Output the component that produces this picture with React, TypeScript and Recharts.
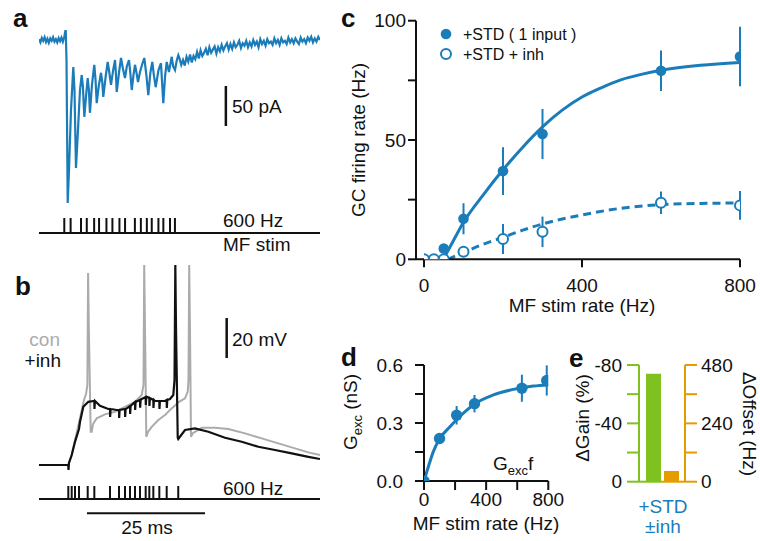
import React from "react";
import {
  Bar,
  BarChart,
  ComposedChart,
  ErrorBar,
  Line,
  LineChart,
  ReferenceLine,
  Scatter,
  XAxis,
  YAxis,
} from "recharts";

const BLUE = "#1b7cba";
const GREEN = "#7fc21f";
const ORANGE = "#e69c00";
const GREY = "#ababab";
const INK = "#111111";
const FONT = '"Liberation Sans", Arial, Helvetica, sans-serif';
const W = 760;
const H = 541;

// panel a: EPSC during 600 Hz MF stim, [ms, pA]
const epscTrace: [number, number][] = [
  [0, 1], [0.4, -3], [0.8, 2.5], [1.2, -1], [1.6, 3.5], [2.0, -2.5], [2.4, 1.5], [2.8, -3.5], [3.2, 2],
  [3.6, -1], [4.0, 3.5], [4.4, -2], [4.8, 1], [5.2, -3], [5.6, 2.5], [6.0, -1.5], [6.4, 3], [6.8, -2],
  [7.2, 4], [7.4, 8.75], [7.6, 13.75], [7.83, -25], [8.17, -203.75], [8.54, -162.5], [9.11, -87.5],
  [9.77, -33.75], [10.1, -62.5], [10.53, -160], [11.1, -112.5], [11.67, -62.5], [12.16, -43.75],
  [12.5, -58], [12.9, -96], [13.4, -70], [13.86, -47.5], [14.2, -62], [14.5, -91], [15.1, -55],
  [15.74, -31], [16.1, -50], [16.43, -79], [17.0, -58], [17.65, -41], [18.0, -52], [18.3, -71],
  [19.0, -45], [19.56, -27.5], [20.0, -40], [20.5, -56], [21.1, -38], [21.64, -25], [21.9, -42],
  [22.12, -65], [22.8, -40], [23.35, -22.5], [23.9, -36], [24.48, -47.5], [25.0, -33], [25.62, -25],
  [26.0, -41], [26.4, -62.5], [26.9, -44], [27.33, -31], [27.8, -42], [28.19, -52.5], [28.75, -40],
  [29.4, -30], [29.98, -22.5], [30.6, -45], [31.12, -69], [31.7, -41], [32.26, -27.5], [32.7, -44],
  [33.22, -59], [34.0, -38], [34.73, -29], [35.0, -50], [35.39, -79], [35.9, -45], [36.36, -27.5],
  [37.0, -40], [37.78, -21], [38.2, -33], [38.72, -37.5], [39.2, -26], [39.66, -19],
  [40.0, -23], [40.5, -31], [41.0, -25], [41.5, -32], [42.0, -21], [42.5, -27], [43.0, -18], [43.5, -28],
  [44.0, -20], [44.5, -24], [45.0, -15], [45.5, -23], [46.0, -13], [46.5, -20], [47.0, -16], [47.5, -11],
  [48.0, -19], [48.5, -9], [49.0, -16], [49.5, -12], [50.0, -8], [50.5, -17], [51.0, -9], [51.5, -14],
  [52.0, -6], [52.5, -13], [53.0, -8], [53.5, -4], [54.0, -12], [54.5, -5], [55.0, -11], [55.5, -3],
  [56.0, -9], [56.5, -6], [57.0, -1], [57.5, -10], [58.0, -4], [58.5, -7], [59.0, -1], [59.5, -9],
  [60.0, -3], [60.5, -8], [61.0, 0], [61.5, -6], [62.0, -2], [62.5, -9], [63.0, 1], [63.5, -5],
  [64.0, -1], [64.5, -7], [65.0, 1], [65.5, -4], [66.0, -2], [66.5, -6], [67.0, 2], [67.5, -4],
  [68.0, 0], [68.5, -6], [69.0, 2], [69.5, -3], [70.0, -1], [70.5, -5], [71.0, 3], [71.5, -3],
  [72.0, 1], [72.5, -4], [73.0, 2], [73.5, -2], [74.0, -5], [74.5, 3], [75.0, -2], [75.5, 1],
  [76.0, -4], [76.5, 3], [77.0, -1], [77.5, 4], [78.0, -3], [78.5, 2], [79.0, -2], [79.5, 4], [80.0, 0],
];
const stimTimesA = [7.2, 9.0, 11.95, 13.6, 15.7, 17.1, 19.2, 20.9, 22.9, 24.5, 27.3, 29.0, 30.7, 32.1, 34.0, 35.4, 37.3, 38.7];

// panel b: membrane potential relative to rest, [ms, mV]
const vmCon: [number, number][] = [
  [0, 0], [6.2, 0], [6.93, 5], [7.63, 12.5], [8.69, 23.5], [9.53, 32.5], [9.96, 35.5], [10.25, 40],
  [10.4, 96], [10.55, 70], [10.95, 16.6], [11.17, 16.6], [11.44, 20.5], [12.22, 23.3], [13.98, 25.3],
  [16.1, 26.6], [18.22, 29.1], [20.34, 31.6], [21.76, 35], [22.14, 40], [22.29, 100], [22.46, 67.5],
  [22.73, 14.1], [23.09, 16.5], [23.88, 19.1], [25.28, 22.5], [26.69, 25], [28.11, 28.3], [29.66, 31.6],
  [30.93, 33.3], [31.5, 36.6], [31.67, 42.5], [31.82, 100], [31.99, 67.5], [32.2, 14.1], [32.63, 16],
  [33.05, 16.6], [34.47, 18.6], [37.29, 18.6], [40.11, 18], [43.64, 15.8], [47.18, 13.3], [50.7, 10.8],
  [54.24, 8.3], [57.06, 6.3], [59.53, 5],
];
const vmInh: [number, number][] = [
  [0, 0], [6.2, 0], [6.25, -2.5], [6.35, 1], [6.93, 5], [7.63, 11.6], [8.47, 18], [8.69, 21.6],
  [9.39, 29.1], [10.44, 31.6], [11.5, 32], [11.72, 32], [11.75, 28], [11.85, 32], [12.92, 29.6],
  [14.68, 28], [15.04, 28], [15.07, 24], [15.17, 28], [16.46, 27.5], [16.95, 27.5], [16.98, 23.5],
  [17.08, 27.5], [18.22, 28], [18.25, 24], [18.35, 28], [19.28, 29.5], [19.31, 25.5], [19.41, 29.5],
  [19.98, 30.8], [20.34, 31.5], [20.37, 27.5], [20.47, 31.5], [21.4, 32.6], [21.43, 28.6], [21.53, 32.6],
  [21.76, 33], [22.6, 34], [22.63, 30], [22.73, 34], [22.82, 34.1], [23.37, 33.5], [23.4, 29.5],
  [23.5, 33.5], [24.22, 32.5], [24.25, 28.5], [24.35, 32.5], [24.58, 32], [25.49, 32], [25.52, 28],
  [25.62, 32], [26.69, 32], [27.05, 32.5], [27.08, 28.5], [27.18, 32.5], [27.75, 33], [28.45, 35],
  [28.71, 42.5], [28.88, 100], [29.03, 67.5], [29.39, 13.6], [29.5, 13], [30.93, 17.5], [33.05, 18.3],
  [35.87, 16.6], [39.41, 13.6], [42.94, 11.6], [46.46, 9.1], [50, 7.5], [53.54, 5.8], [57.06, 4.1],
  [59.53, 3],
];
const stimTimesB = [6.21, 6.93, 7.63, 8.47, 10.32, 11.72, 15.04, 16.95, 18.22, 19.28, 20.34, 21.4, 22.6, 23.37, 24.22, 25.49, 27.05, 29.5];

// panel c: GC output rate vs MF rate
const stimRate = [0, 25, 50, 100, 200, 300, 600, 800];
const stdRate = [0, 0, 4.5, 17, 37, 52.5, 79, 85];
const stdSem = [0, 0, 0, 6.5, 10, 10.5, 8.5, 12.5];
const inhRate = [0, 0, 0, 3.2, 8.5, 11.5, 23.7, 22.6];
const inhSem = [0, 0, 0, 2, 6.3, 6.4, 4.7, 6];
const stdFitX = [52, 75, 100, 150, 200, 250, 300, 350, 400, 450, 500, 550, 600, 700, 800];
const stdFitY = [1, 8, 15.5, 27, 37.5, 47, 55.5, 62.5, 68, 72, 75.3, 77.5, 79.2, 81.3, 82.5];
const inhFitX = [60, 100, 150, 200, 250, 300, 400, 500, 600, 700, 800];
const inhFitY = [0, 2.8, 6.3, 9.2, 12.2, 14.8, 18.6, 21.4, 22.9, 23.4, 23.6];

// panel d: excitatory conductance vs MF rate
const gRate = [0, 100, 210, 325, 630, 790];
const gExc = [0, 0.22, 0.34, 0.4, 0.48, 0.52];
const gSem = [0, 0, 0.048, 0.045, 0.07, 0.078];
const gFitX = [0, 28, 60, 103, 167, 232, 328, 446, 575, 704, 800];
const gFitY = [0, 0.074, 0.152, 0.221, 0.281, 0.335, 0.4, 0.445, 0.474, 0.491, 0.497];

// panel e
const gainChange = -74;
const offsetChange = 44;

const pts = (xs: number[], ys: number[], es?: number[]) =>
  xs.map((x, i) => ({ x, y: ys[i], e: es ? es[i] : 0 }));
const trace = (rows: [number, number][]) => rows.map(([t, v]) => ({ t, v }));

const axisStroke = { stroke: INK, strokeWidth: 2 };
const tickStyle = { fontSize: 19, fill: INK, fontFamily: FONT };

function Layer({ children }: { children: React.ReactNode }) {
  return <div style={{ position: "absolute", left: 0, top: 0 }}>{children}</div>;
}

const filledDot = (r: number) => (p: any) => <circle cx={p.cx} cy={p.cy} r={r} fill={BLUE} />;
const openDot = (p: any) => <circle cx={p.cx} cy={p.cy} r={5} fill="#fff" stroke={BLUE} strokeWidth={2} />;

function PanelA() {
  return (
    <LineChart width={W} height={H} data={trace(epscTrace)} margin={{ top: 30, right: 440, bottom: 301, left: 39 }}>
      <XAxis type="number" dataKey="t" domain={[0, 80]} allowDataOverflow hide />
      <YAxis type="number" domain={[-250, 12.5]} allowDataOverflow hide />
      {stimTimesA.map((t) => (
        <ReferenceLine key={t} segment={[{ x: t, y: -222.5 }, { x: t, y: -241.25 }]} stroke={INK} strokeWidth={2} ifOverflow="visible" />
      ))}
      <ReferenceLine segment={[{ x: 0, y: -241.25 }, { x: 80, y: -241.25 }]} stroke={INK} strokeWidth={2} ifOverflow="visible" />
      <ReferenceLine segment={[{ x: 53.2, y: -57.5 }, { x: 53.2, y: -107.5 }]} stroke={INK} strokeWidth={2.5} ifOverflow="visible" />
      <Line dataKey="v" type="linear" stroke={BLUE} strokeWidth={2.2} dot={false} isAnimationActive={false} />
    </LineChart>
  );
}

function PanelB() {
  return (
    <LineChart width={W} height={H} margin={{ top: 260, right: 440, bottom: 21, left: 39 }}>
      <XAxis type="number" dataKey="t" domain={[0, 59.53]} allowDataOverflow hide />
      <YAxis type="number" domain={[-27.5, 102.5]} allowDataOverflow hide />
      {stimTimesB.map((t) => (
        <ReferenceLine key={t} segment={[{ x: t, y: -10.5 }, { x: t, y: -17 }]} stroke={INK} strokeWidth={2} ifOverflow="visible" />
      ))}
      <ReferenceLine segment={[{ x: 0, y: -17 }, { x: 59.53, y: -17 }]} stroke={INK} strokeWidth={2} ifOverflow="visible" />
      <ReferenceLine segment={[{ x: 10.17, y: -24.15 }, { x: 35.17, y: -24.15 }]} stroke={INK} strokeWidth={2} ifOverflow="visible" />
      <ReferenceLine segment={[{ x: 39.76, y: 53.5 }, { x: 39.76, y: 73.5 }]} stroke={INK} strokeWidth={2.5} ifOverflow="visible" />
      <Line data={trace(vmCon)} dataKey="v" type="linear" stroke={GREY} strokeWidth={2} dot={false} isAnimationActive={false} />
      <Line data={trace(vmInh)} dataKey="v" type="linear" stroke={INK} strokeWidth={2.2} dot={false} isAnimationActive={false} />
    </LineChart>
  );
}

function PanelC() {
  return (
    <ComposedChart width={W} height={H} margin={{ top: 20.7, right: 20, bottom: 251.7, left: 366 }}>
      <XAxis type="number" dataKey="x" domain={[0, 800]} ticks={[0, 400, 800]} padding={{ left: 8, right: 0 }}
        allowDataOverflow height={30} axisLine={axisStroke} tickLine={axisStroke} tickSize={8} tickMargin={11} tick={tickStyle} />
      <YAxis type="number" dataKey="y" domain={[0, 100]} ticks={[0, 25, 50, 75, 100]} allowDataOverflow width={50}
        tickFormatter={(v: number) => (v % 50 === 0 ? String(v) : "")}
        axisLine={axisStroke} tickLine={axisStroke} tickSize={8} tick={tickStyle} />
      <Line data={pts(stdFitX, stdFitY)} dataKey="y" type="monotone" stroke={BLUE} strokeWidth={3} dot={false} isAnimationActive={false} />
      <Line data={pts(inhFitX, inhFitY)} dataKey="y" type="monotone" stroke={BLUE} strokeWidth={3} strokeDasharray="8 5" dot={false} isAnimationActive={false} />
      <Scatter data={pts(stimRate, stdRate, stdSem)} dataKey="y" shape={filledDot(5.3)} isAnimationActive={false}>
        <ErrorBar dataKey="e" direction="y" width={0} stroke={BLUE} strokeWidth={2} />
      </Scatter>
      <Scatter data={pts(stimRate, inhRate, inhSem)} dataKey="y" shape={openDot} isAnimationActive={false}>
        <ErrorBar dataKey="e" direction="y" width={0} stroke={BLUE} strokeWidth={2} />
      </Scatter>
    </ComposedChart>
  );
}

function PanelD() {
  const fmt = (v: number) => (Math.abs(v) < 1e-9 ? "0.0" : Math.abs(v - 0.3) < 1e-9 ? "0.3" : Math.abs(v - 0.6) < 1e-9 ? "0.6" : "");
  return (
    <ComposedChart width={W} height={H} margin={{ top: 365, right: 211.7, bottom: 30, left: 364 }}>
      <XAxis type="number" dataKey="x" domain={[0, 800]} ticks={[0, 200, 400, 600, 800]} allowDataOverflow height={30}
        tickFormatter={(v: number) => (v % 400 === 0 ? String(v) : "")}
        axisLine={axisStroke} tickLine={axisStroke} tickSize={9} tickMargin={3} tick={tickStyle} />
      <YAxis type="number" dataKey="y" domain={[0, 0.6]} ticks={[0, 0.15, 0.3, 0.45, 0.6]} allowDataOverflow width={60}
        tickFormatter={fmt} axisLine={axisStroke} tickLine={axisStroke} tickSize={9} tickMargin={12} tick={tickStyle} />
      <Line data={pts(gFitX, gFitY)} dataKey="y" type="monotone" stroke={BLUE} strokeWidth={3} dot={false} isAnimationActive={false} />
      <Scatter data={pts(gRate, gExc, gSem)} dataKey="y" shape={filledDot(5.7)} isAnimationActive={false}>
        <ErrorBar dataKey="e" direction="y" width={0} stroke={BLUE} strokeWidth={2} />
      </Scatter>
    </ComposedChart>
  );
}

const panelE = [{ k: "+STD ±inh", gain: gainChange, offset: offsetChange }];

function PanelEGain() {
  const line = { stroke: GREEN, strokeWidth: 2 };
  return (
    <BarChart width={W} height={H} data={panelE} margin={{ top: 365, right: 98, bottom: 57.3, left: 579 }}>
      <XAxis dataKey="k" type="category" padding={{ left: 5, right: 0 }} height={2} tick={false} tickLine={false} axisLine={line} />
      <YAxis type="number" domain={[-80, 0]} reversed allowDataOverflow ticks={[-80, -60, -40, -20, 0]} width={60}
        tickFormatter={(v: number) => (v % 40 === 0 ? String(v) : "")}
        axisLine={line} tickLine={line} tickSize={12} tickMargin={5} tick={tickStyle} />
      <Bar dataKey="gain" fill={GREEN} barSize={15} isAnimationActive={false} />
    </BarChart>
  );
}

function PanelEOffset() {
  const line = { stroke: ORANGE, strokeWidth: 2 };
  return (
    <BarChart width={W} height={H} data={panelE} margin={{ top: 365, right: 15, bottom: 57.3, left: 662 }}>
      <XAxis dataKey="k" type="category" padding={{ left: 0, right: 5 }} height={2} tick={false} tickLine={false} axisLine={line} />
      <YAxis orientation="right" type="number" domain={[0, 480]} allowDataOverflow ticks={[0, 120, 240, 360, 480]} width={60}
        tickFormatter={(v: number) => (v % 240 === 0 ? String(v) : "")}
        axisLine={line} tickLine={line} tickSize={12} tickMargin={4} tick={tickStyle} />
      <Bar dataKey="offset" fill={ORANGE} barSize={15} isAnimationActive={false} />
    </BarChart>
  );
}

function Annotations() {
  const t = { fontFamily: FONT, fontSize: 19, fill: INK };
  const lab = { fontFamily: FONT, fontSize: 26, fontWeight: 700, fill: INK };
  return (
    <svg width={W} height={H} style={{ position: "absolute", left: 0, top: 0, pointerEvents: "none" }}>
      <text x={13} y={27} {...lab}>a</text>
      <text x={15} y={295} {...lab}>b</text>
      <text x={341} y={27} {...lab}>c</text>
      <text x={341} y={366} {...lab}>d</text>
      <text x={569} y={367} {...lab}>e</text>

      <text x={232} y={113} {...t}>50 pA</text>
      <text x={223} y={227} {...t}>600 Hz</text>
      <text x={223} y={251} {...t}>MF stim</text>

      <text x={232} y={346} {...t}>20 mV</text>
      <text x={60} y={346} {...t} fill={GREY} textAnchor="end">con</text>
      <text x={61} y={367} {...t} textAnchor="end">+inh</text>
      <text x={223} y={495} {...t}>600 Hz</text>
      <text x={147} y={534} {...t} textAnchor="middle">25 ms</text>

      <circle cx={446} cy={34} r={5.3} fill={BLUE} />
      <text x={463} y={40} {...t} fontSize={16}>+STD ( 1 input )</text>
      <circle cx={446} cy={54} r={5} fill="#fff" stroke={BLUE} strokeWidth={2} />
      <text x={463} y={60} {...t} fontSize={16}>+STD + inh</text>
      <text x={582} y={312} {...t} textAnchor="middle">MF stim rate (Hz)</text>
      <text x={365} y={140} {...t} textAnchor="middle" transform="rotate(-90 365 140)">GC firing rate (Hz)</text>

      <text x={486} y={530} {...t} textAnchor="middle">MF stim rate (Hz)</text>
      <text x={357} y={412} {...t} textAnchor="middle" transform="rotate(-90 357 412)">
        G<tspan fontSize={13} dy={5}>exc</tspan><tspan dy={-5}> (nS)</tspan>
      </text>
      <text x={493} y={470} {...t}>
        G<tspan fontSize={13} dy={5}>exc</tspan><tspan dy={-5}>f</tspan>
      </text>

      <text x={589} y={418} {...t} textAnchor="middle" transform="rotate(-90 589 418)">ΔGain (%)</text>
      <text x={743} y={424} {...t} textAnchor="middle" transform="rotate(90 743 424)">ΔOffset (Hz)</text>
      <text x={663} y={513} {...t} fill={BLUE} textAnchor="middle">+STD</text>
      <text x={663} y={533} {...t} fill={BLUE} textAnchor="middle">±inh</text>
    </svg>
  );
}

export default function App() {
  return (
    <div style={{ position: "absolute", left: 0, top: 0, width: W, height: H, background: "#fff", fontFamily: FONT }}>
      <Layer><PanelA /></Layer>
      <Layer><PanelB /></Layer>
      <Layer><PanelC /></Layer>
      <Layer><PanelD /></Layer>
      <Layer><PanelEGain /></Layer>
      <Layer><PanelEOffset /></Layer>
      <Annotations />
    </div>
  );
}
